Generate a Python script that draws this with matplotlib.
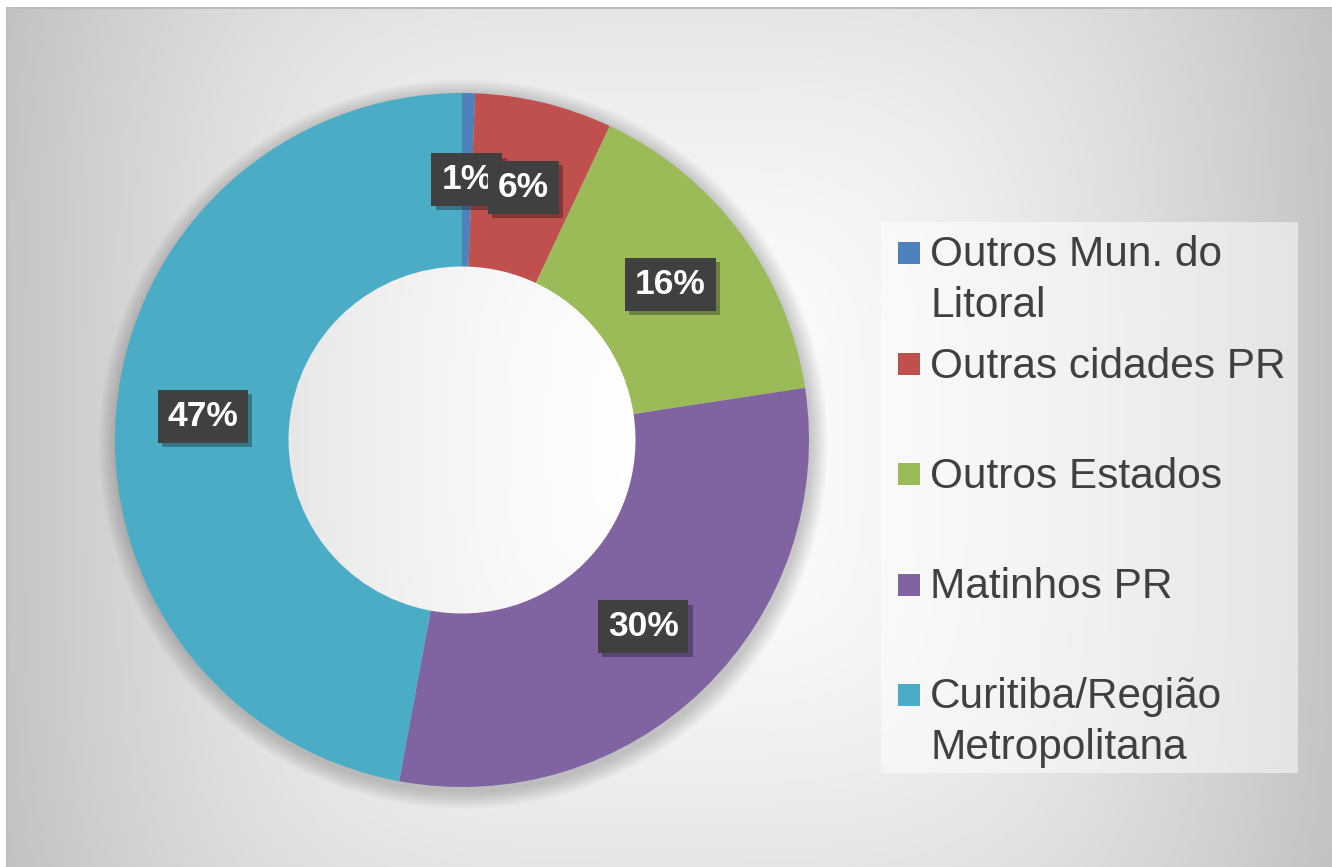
import matplotlib
matplotlib.use('Agg')
import matplotlib.pyplot as plt
import matplotlib.patheffects as pe
from matplotlib.patches import Rectangle, Wedge
import numpy as np

W, H = 1332, 867

# data
categories = ['Outros Mun. do\nLitoral', 'Outras cidades PR', 'Outros Estados',
              'Matinhos PR', 'Curitiba/Região\nMetropolitana']
shares = [0.6, 6.4, 15.6, 30.3, 47.1]
colors = ['#4F81BD', '#C0504D', '#9BBB59', '#8064A2', '#4BACC6']

plt.rcParams['font.family'] = ['Liberation Sans', 'DejaVu Sans']

fig = plt.figure(figsize=(W / 100, H / 100), dpi=100)
fig.patch.set_facecolor('white')

# gray background, lighter towards the middle
bg = fig.add_axes([7 / W, 0, (W - 7) / W, (H - 8) / H])
yy, xx = np.mgrid[8:H, 7:W]
dx = np.abs(xx - 669) / 662
dy = np.abs(yy - 437) / 716
t = (dx ** 4 + dy ** 4) ** 0.25
v = np.clip((255 - 58 * t ** 1.6) / 255, 0, 1)
bg.imshow(np.dstack([v, v, v]), aspect='auto', interpolation='bilinear')
bg.set_xticks([])
bg.set_yticks([])
for side in ['right', 'bottom']:
    bg.spines[side].set_visible(False)
for side in ['top', 'left']:
    bg.spines[side].set_color('#bdbdbd')
    bg.spines[side].set_linewidth(1.5)

# donut
R = 347
cx, cy = 462, 440
half = 1.2 * R
ax = fig.add_axes([(cx - half) / W, (H - cy - half) / H, 2 * half / W, 2 * half / H])
ax.patch.set_visible(False)

# soft shadow under the ring
for k in range(10, 0, -1):
    ax.add_patch(Wedge((0.004, -0.012), 1 + k * 0.005, 0, 360, width=0.45 + k * 0.005,
                       fc='k', ec='none', alpha=0.018, zorder=0))

wedges, texts, autotexts = ax.pie(shares, colors=colors, startangle=90, counterclock=False,
                                  wedgeprops=dict(width=0.5, linewidth=0, zorder=1),
                                  autopct='%.0f%%', pctdistance=0.75)
ax.set_xlim(-1.2, 1.2)
ax.set_ylim(-1.2, 1.2)

for txt in autotexts:
    txt.set_color('white')
    txt.set_fontweight('bold')
    txt.set_fontsize(25.5)
    txt.set_zorder(3)
    txt.set_bbox(dict(boxstyle='square,pad=0.28', fc='#404040', ec='none'))
    txt.get_bbox_patch().set_path_effects(
        [pe.withSimplePatchShadow(offset=(3, -3), shadow_rgbFace='k', alpha=0.3)])

# legend drawn by hand so the 2-line entries line up like the original
fig.add_artist(Rectangle((881 / W, 1 - 773 / H), (1298 - 881) / W, (773 - 222) / H,
                         transform=fig.transFigure, fc='white', alpha=0.5, ec='none'))
line_px = 50
for i, (lab, col) in enumerate(zip(categories, colors)):
    yc = 253 + i * 110.5
    fig.add_artist(Rectangle((898 / W, 1 - (yc + 11) / H), 22 / W, 22 / H,
                             transform=fig.transFigure, fc=col, ec='none'))
    n_extra = lab.count('\n')
    fig.text(930 / W, 1 - (yc + 14 + n_extra * line_px) / H, lab, fontsize=30.5,
             color='#404040', va='baseline', ha='left', linespacing=1.34)

plt.savefig('out.png', dpi=100)
